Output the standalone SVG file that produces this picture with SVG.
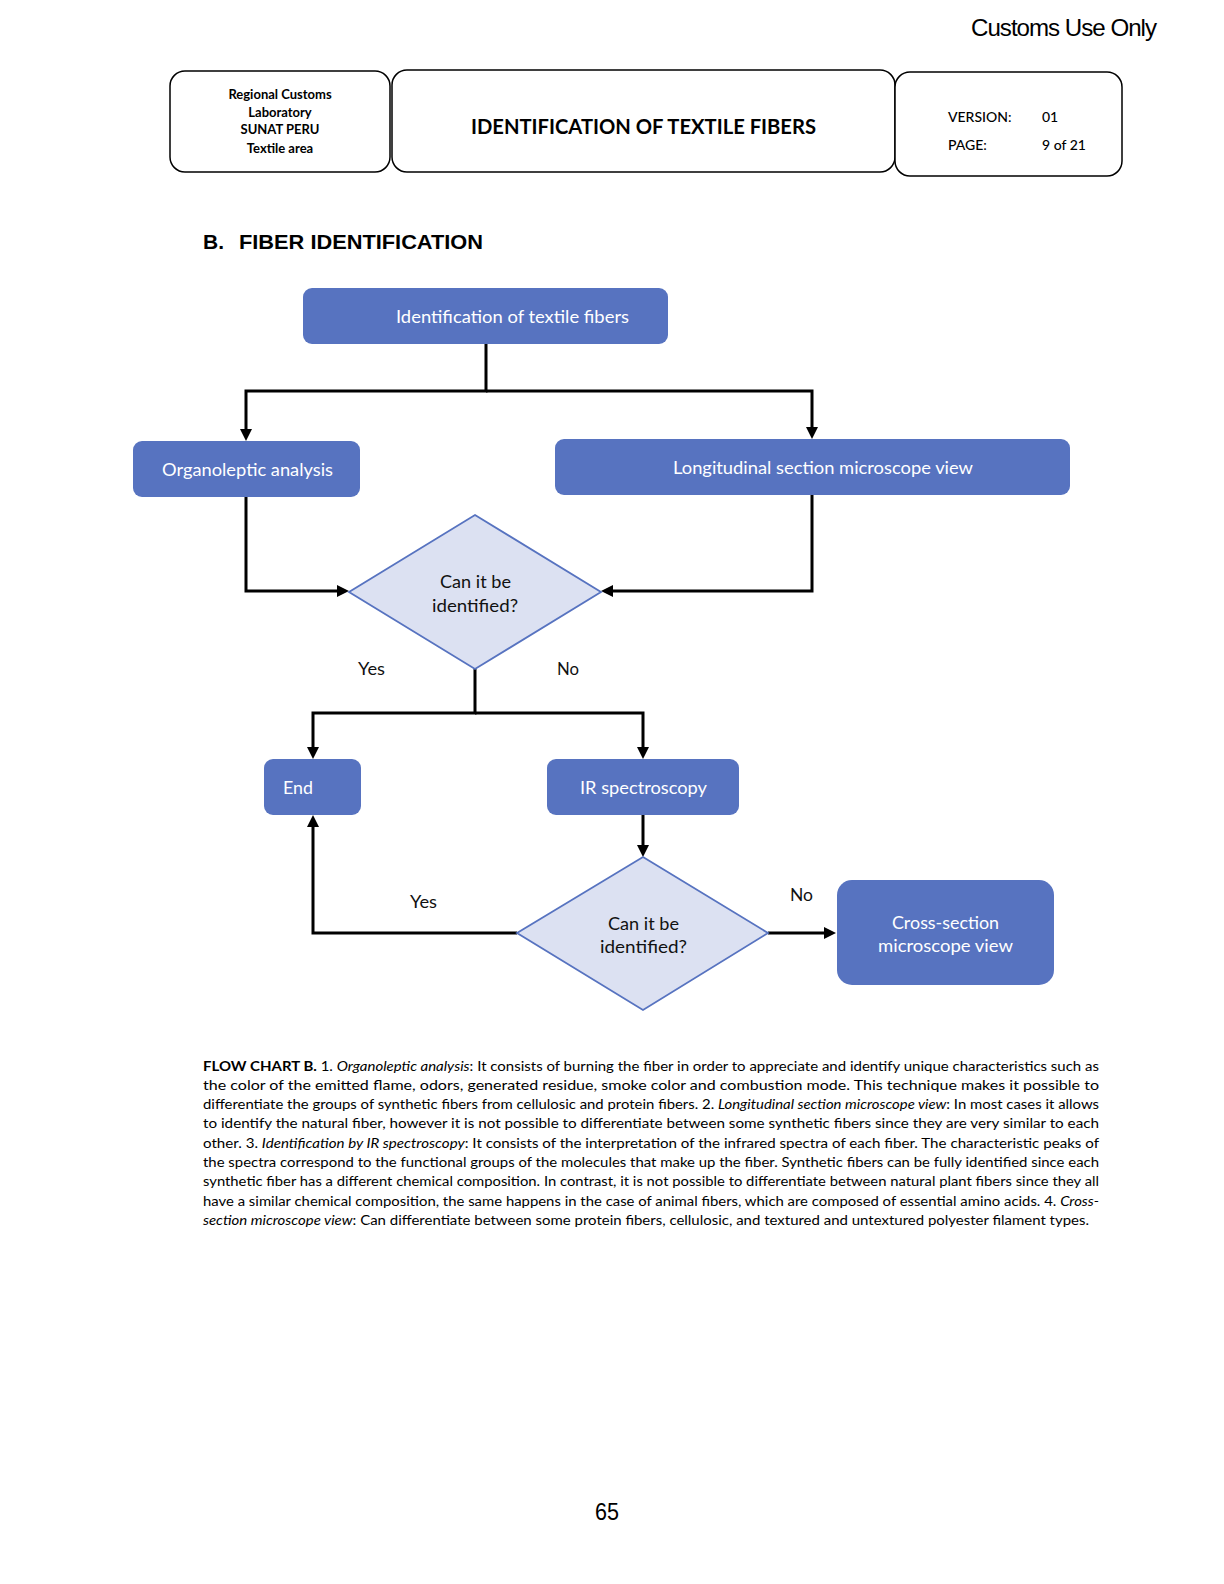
<svg xmlns="http://www.w3.org/2000/svg" width="1224" height="1584" viewBox="0 0 1224 1584">
<style>
.hb{fill:#fff;stroke:#000;stroke-width:1.5}
.node{fill:#5773C0}
.dia{fill:#DCE1F2;stroke:#5773C0;stroke-width:1.8}
.nt{font-family:Lato,"Noto Sans",sans-serif;font-size:18px;fill:#fff;text-anchor:middle}
.dt{font-family:Lato,"Noto Sans",sans-serif;font-size:18px;fill:#111;text-anchor:middle}
.lb{font-family:Lato,"Noto Sans",sans-serif;font-size:18px;fill:#111}
.hd{font-family:Lato,"Noto Sans",sans-serif;font-weight:bold;fill:#000}
.cap{font-family:Lato,"Noto Sans",sans-serif;font-size:13.5px;fill:#000}
.conn{fill:none;stroke:#000;stroke-width:3;stroke-linejoin:miter}
</style>
<defs>
<marker id="arr" markerUnits="userSpaceOnUse" markerWidth="14" markerHeight="14" refX="6" refY="6" orient="auto">
<path d="M0,0 L12,6 L0,12 z" fill="#000"/>
</marker>
</defs>
<rect width="1224" height="1584" fill="#fff"/>

<g id="page-header">
<text x="1156" y="36" font-family="'Liberation Sans',sans-serif" font-size="24" text-anchor="end" textLength="185" lengthAdjust="spacingAndGlyphs" letter-spacing="-1">Customs Use Only</text>
<rect class="hb" x="170" y="71" width="220" height="101" rx="15"/>
<rect class="hb" x="392" y="70" width="503" height="102" rx="15"/>
<rect class="hb" x="895" y="72" width="227" height="104" rx="15"/>
<g class="hd" font-size="13" text-anchor="middle">
<text x="280" y="99">Regional Customs</text>
<text x="280" y="117">Laboratory</text>
<text x="280" y="134">SUNAT PERU</text>
<text x="280" y="153">Textile area</text>
</g>
<text class="hd" x="643.5" y="134" font-size="20" text-anchor="middle" textLength="345" lengthAdjust="spacingAndGlyphs">IDENTIFICATION OF TEXTILE FIBERS</text>
<g class="hd" font-size="14" font-weight="normal" style="font-weight:500">
<text x="948" y="122">VERSION:</text>
<text x="1042" y="122">01</text>
<text x="948" y="150">PAGE:</text>
<text x="1042" y="150">9 of 21</text>
</g>
<text x="203" y="249" font-family="'Liberation Sans',Arial,sans-serif" font-weight="bold" font-size="21">B.</text>
<text x="239" y="249" font-family="'Liberation Sans',Arial,sans-serif" font-weight="bold" font-size="21" textLength="244" lengthAdjust="spacingAndGlyphs">FIBER IDENTIFICATION</text>
</g>

<g id="connectors">
<path class="conn" d="M486,344 V391 H246 V435" marker-end="url(#arr)"/>
<path class="conn" d="M486,391 H812 V433" marker-end="url(#arr)"/>
<path class="conn" d="M246,497 V591 H343" marker-end="url(#arr)"/>
<path class="conn" d="M812,495 V591 H607" marker-end="url(#arr)"/>
<path class="conn" d="M475,669 V713 H313 V753" marker-end="url(#arr)"/>
<path class="conn" d="M475,713 H643 V753" marker-end="url(#arr)"/>
<path class="conn" d="M643,815 V851" marker-end="url(#arr)"/>
<path class="conn" d="M517,933 H313 V821" marker-end="url(#arr)"/>
<path class="conn" d="M768,933 H830" marker-end="url(#arr)"/>
<text class="lb" x="358" y="675" textLength="27" lengthAdjust="spacingAndGlyphs">Yes</text>
<text class="lb" x="557" y="675" textLength="22" lengthAdjust="spacingAndGlyphs">No</text>
<text class="lb" x="410" y="908" textLength="27" lengthAdjust="spacingAndGlyphs">Yes</text>
<text class="lb" x="790" y="901" textLength="23" lengthAdjust="spacingAndGlyphs">No</text>
</g>

<g id="node-start">
<rect class="node" x="303" y="288" width="365" height="56" rx="9"/>
<text class="nt" x="512.5" y="323" textLength="233" lengthAdjust="spacingAndGlyphs">Identification of textile fibers</text>
</g>
<g id="node-organoleptic">
<rect class="node" x="133" y="441" width="227" height="56" rx="9"/>
<text class="nt" x="247.5" y="476" textLength="171" lengthAdjust="spacingAndGlyphs">Organoleptic analysis</text>
</g>
<g id="node-longitudinal">
<rect class="node" x="555" y="439" width="515" height="56" rx="9"/>
<text class="nt" x="823" y="474" textLength="300" lengthAdjust="spacingAndGlyphs">Longitudinal section microscope view</text>
</g>
<g id="node-decision1">
<polygon class="dia" points="475,515 601,592 475,669 349,592"/>
<text class="dt" x="475.5" y="588" textLength="71" lengthAdjust="spacingAndGlyphs">Can it be</text>
<text class="dt" x="475" y="612" textLength="86" lengthAdjust="spacingAndGlyphs">identified?</text>
</g>
<g id="node-end">
<rect class="node" x="264" y="759" width="97" height="56" rx="9"/>
<text class="nt" x="298" y="794" textLength="30" lengthAdjust="spacingAndGlyphs">End</text>
</g>
<g id="node-ir">
<rect class="node" x="547" y="759" width="192" height="56" rx="9"/>
<text class="nt" x="643.5" y="794" textLength="127" lengthAdjust="spacingAndGlyphs">IR spectroscopy</text>
</g>
<g id="node-decision2">
<polygon class="dia" points="643,857 768,933 643,1010 517,933"/>
<text class="dt" x="643.5" y="930" textLength="71" lengthAdjust="spacingAndGlyphs">Can it be</text>
<text class="dt" x="643.5" y="953" textLength="87" lengthAdjust="spacingAndGlyphs">identified?</text>
</g>
<g id="node-cross">
<rect class="node" x="837" y="880" width="217" height="105" rx="15"/>
<text class="nt" x="945.5" y="929" textLength="107" lengthAdjust="spacingAndGlyphs">Cross-section</text>
<text class="nt" x="945.5" y="952" textLength="135" lengthAdjust="spacingAndGlyphs">microscope view</text>
</g>

<g id="caption" class="cap">
<text x="203" y="1071" textLength="896" lengthAdjust="spacingAndGlyphs"><tspan font-weight="bold">FLOW CHART B.</tspan> 1. <tspan font-style="italic">Organoleptic analysis</tspan>: It consists of burning the fiber in order to appreciate and identify unique characteristics such as</text>
<text x="203" y="1090" textLength="896" lengthAdjust="spacingAndGlyphs">the color of the emitted flame, odors, generated residue, smoke color and combustion mode. This technique makes it possible to</text>
<text x="203" y="1109" textLength="896" lengthAdjust="spacingAndGlyphs">differentiate the groups of synthetic fibers from cellulosic and protein fibers. 2. <tspan font-style="italic">Longitudinal section microscope view</tspan>: In most cases it allows</text>
<text x="203" y="1128" textLength="896" lengthAdjust="spacingAndGlyphs">to identify the natural fiber, however it is not possible to differentiate between some synthetic fibers since they are very similar to each</text>
<text x="203" y="1148" textLength="896" lengthAdjust="spacingAndGlyphs">other. 3. <tspan font-style="italic">Identification by IR spectroscopy</tspan>: It consists of the interpretation of the infrared spectra of each fiber. The characteristic peaks of</text>
<text x="203" y="1167" textLength="896" lengthAdjust="spacingAndGlyphs">the spectra correspond to the functional groups of the molecules that make up the fiber. Synthetic fibers can be fully identified since each</text>
<text x="203" y="1186" textLength="896" lengthAdjust="spacingAndGlyphs">synthetic fiber has a different chemical composition. In contrast, it is not possible to differentiate between natural plant fibers since they all</text>
<text x="203" y="1206" textLength="896" lengthAdjust="spacingAndGlyphs">have a similar chemical composition, the same happens in the case of animal fibers, which are composed of essential amino acids. 4. <tspan font-style="italic">Cross-</tspan></text>
<text x="203" y="1225" textLength="886" lengthAdjust="spacingAndGlyphs"><tspan font-style="italic">section microscope view</tspan>: Can differentiate between some protein fibers, cellulosic, and textured and untextured polyester filament types.</text>
</g>

<g id="page-number">
<text x="607" y="1520" font-family="'Liberation Sans',sans-serif" font-size="23" text-anchor="middle" textLength="24" lengthAdjust="spacingAndGlyphs">65</text>
</g>
</svg>
